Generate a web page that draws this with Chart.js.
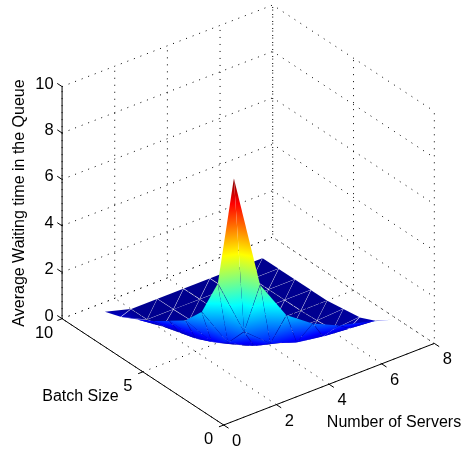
<!DOCTYPE html>
<html>
<head>
<meta charset="utf-8">
<style>
  html, body { margin: 0; padding: 0; background: #fff; }
  canvas { display: block; }
</style>
<script src="https://cdn.jsdelivr.net/npm/chart.js@4"></script>
</head>
<body>
<canvas id="surfaceChart" width="463" height="450"></canvas>
<script>
const serverCounts = [1, 2, 3, 4, 5, 6, 7];
const batchSizes = [1, 2, 3, 4, 5, 6, 7, 8, 9];
// one row per batch size, one column per server count
const batch1 = [9.74, 4.70, 2.96, 2.16, 1.64, 1.34, 1.00];
const batch2 = [4.75, 2.22, 1.28, 0.88, 0.70, 0.60, 0.50];
const batch3 = [3.07, 1.29, 0.71, 0.40, 0.10, 0.10, 0.20];
const batch4 = [2.25, 0.86, 0.30, 0.10, 0.05, 0.03, 0.10];
const batch5 = [1.77, 0.55, 0.15, 0.05, 0.02, 0.00, 0.00];
const batch6 = [1.30, 0.35, 0.05, 0.00, 0.00, 0.00, 0.00];
const batch7 = [0.90, 0.15, 0.02, 0.00, 0.00, 0.00, 0.00];
const batch8 = [0.55, 0.00, 0.00, 0.00, 0.00, 0.00, 0.00];
const batch9 = [0.32, 0.00, 0.00, 0.00, 0.00, 0.00, 0.00];
const waitingTimes = [batch1, batch2, batch3, batch4, batch5, batch6, batch7, batch8, batch9];

const serverTicks = [0, 2, 4, 6, 8];
const batchTicks = [0, 5, 10];
const waitTicks = [0, 2, 4, 6, 8, 10];
const xMax = 8, yMax = 10, zMax = 10;

// default matlab view: az -37.5, el 30
const az = -37.5 * Math.PI / 180, el = 30 * Math.PI / 180;
function project(x, y, z) {
  const nx = x / xMax, ny = y / yMax, nz = z / zMax;
  return {
    x: nx * Math.cos(az) + ny * Math.sin(az),
    y: (ny * Math.cos(az) - nx * Math.sin(az)) * Math.sin(el) + nz * Math.cos(el),
    depth: (ny * Math.cos(az) - nx * Math.sin(az)) * Math.cos(el) - nz * Math.sin(el)
  };
}

function lineSet(points, dotted) {
  return {
    data: points.map(p => project(p[0], p[1], p[2])),
    showLine: true,
    pointRadius: 0,
    borderColor: '#000',
    borderWidth: 1,
    borderDash: dotted ? [1, 6] : [],
    tension: 0,
    order: 1,
    clip: false
  };
}

const datasets = [];
// grid on the floor and on the two back walls
serverTicks.forEach(x => datasets.push(lineSet([[x, 0, 0], [x, yMax, 0], [x, yMax, zMax]], true)));
batchTicks.forEach(y => datasets.push(lineSet([[0, y, 0], [xMax, y, 0], [xMax, y, zMax]], true)));
waitTicks.forEach(z => datasets.push(lineSet([[0, yMax, z], [xMax, yMax, z], [xMax, 0, z]], true)));
// axes
datasets.push(lineSet([[0, 0, 0], [xMax, 0, 0]], false));
datasets.push(lineSet([[0, 0, 0], [0, yMax, 0]], false));
datasets.push(lineSet([[0, yMax, 0], [0, yMax, zMax]], false));
// tick marks
serverTicks.forEach(x => datasets.push(lineSet([[x, 0, 0], [x, -0.3, 0]], false)));
batchTicks.forEach(y => datasets.push(lineSet([[0, y, 0], [-0.18, y, 0]], false)));
waitTicks.forEach(z => datasets.push(lineSet([[0, yMax, z], [0, yMax + 0.3, z]], false)));

// the surface itself, painted by the plugin below
const surfacePoints = [];
batchSizes.forEach((y, j) => serverCounts.forEach((x, i) => {
  surfacePoints.push(Object.assign(project(x, y, waitingTimes[j][i]), { z: waitingTimes[j][i] }));
}));
datasets.push({ label: 'surface', data: surfacePoints, showLine: false, pointRadius: 0 });

const zTop = Math.max(...waitingTimes.flat());
const jetStops = [
  [0, '#00008f'], [0.111, '#0000ff'], [0.365, '#00ffff'],
  [0.619, '#ffff00'], [0.873, '#ff0000'], [1, '#800000']
];
const seam = 0.35; // how far each facet is pulled in, so the seams show like the original

function fillTriangle(ctx, a, b, c) {
  const d1x = b.px - a.px, d1y = b.py - a.py, d2x = c.px - a.px, d2y = c.py - a.py;
  const det = d1x * d2y - d2x * d1y;
  if (Math.abs(det) < 1e-6) return;
  const dz1 = b.z - a.z, dz2 = c.z - a.z;
  const gx = (dz1 * d2y - dz2 * d1y) / det, gy = (dz2 * d1x - dz1 * d2x) / det;
  const g2 = gx * gx + gy * gy;
  const cx = (a.px + b.px + c.px) / 3, cy = (a.py + b.py + c.py) / 3;
  const pull = p => {
    const dx = cx - p.px, dy = cy - p.py, len = Math.hypot(dx, dy) || 1;
    const k = Math.min(seam, len * 0.3) / len;
    return [p.px + dx * k, p.py + dy * k];
  };
  ctx.beginPath();
  ctx.moveTo(...pull(a));
  ctx.lineTo(...pull(b));
  ctx.lineTo(...pull(c));
  ctx.closePath();
  if (g2 < 1e-9) {
    ctx.fillStyle = jetStops[0][1];
  } else {
    const s0 = -a.z / g2, s1 = (zTop - a.z) / g2;
    const grad = ctx.createLinearGradient(a.px + gx * s0, a.py + gy * s0, a.px + gx * s1, a.py + gy * s1);
    jetStops.forEach(s => grad.addColorStop(s[0], s[1]));
    ctx.fillStyle = grad;
  }
  ctx.fill();
}

const surfacePlugin = {
  id: 'surface',
  afterDatasetsDraw(chart) {
    const ctx = chart.ctx, sx = chart.scales.x, sy = chart.scales.y;
    const nx = serverCounts.length;
    const pts = surfacePoints.map(p => ({
      px: sx.getPixelForValue(p.x), py: sy.getPixelForValue(p.y), z: p.z, depth: p.depth
    }));
    const tris = [];
    for (let j = 0; j < batchSizes.length - 1; j++) {
      for (let i = 0; i < nx - 1; i++) {
        const p00 = pts[j * nx + i], p10 = pts[j * nx + i + 1];
        const p01 = pts[(j + 1) * nx + i], p11 = pts[(j + 1) * nx + i + 1];
        tris.push([p00, p10, p11], [p00, p11, p01]);
      }
    }
    tris.sort((s, t) => (t[0].depth + t[1].depth + t[2].depth) - (s[0].depth + s[1].depth + s[2].depth));
    ctx.save();
    tris.forEach(t => fillTriangle(ctx, t[0], t[1], t[2]));
    ctx.restore();
  }
};

const labelPlugin = {
  id: 'labels',
  afterDraw(chart) {
    const ctx = chart.ctx, sx = chart.scales.x, sy = chart.scales.y;
    const at = (x, y, z) => {
      const p = project(x, y, z);
      return [sx.getPixelForValue(p.x), sy.getPixelForValue(p.y)];
    };
    ctx.save();
    ctx.fillStyle = '#000';
    ctx.textBaseline = 'middle';
    ctx.font = '16.5px "Liberation Sans"';
    ctx.textAlign = 'center';
    serverTicks.forEach(t => {
      const [px, py] = at(t, 0, 0);
      ctx.fillText(String(t), px + 13, py + 16.5);
    });
    batchTicks.forEach(t => {
      const [px, py] = at(0, t, 0);
      ctx.fillText(String(t), px - (t === 10 ? 18 : 15), py + 14.5);
    });
    ctx.textAlign = 'right';
    waitTicks.forEach(t => {
      const [px, py] = at(0, yMax, t);
      ctx.fillText(String(t), px - 8.5, py - 2.5);
    });
    ctx.font = '16px "Liberation Sans"';
    ctx.textAlign = 'center';
    ctx.fillText('Batch Size', 80.5, 396.5);
    ctx.fillText('Number of Servers', 394, 422.5);
    ctx.translate(19.5, 203);
    ctx.rotate(-Math.PI / 2);
    ctx.fillText('Average Waiting time in the Queue', 0, 0);
    ctx.restore();
  }
};

// front corner of the box sits at pixel (223.7, 425)
const pxPerX = 265.5, pxPerY = 268;
new Chart(document.getElementById('surfaceChart'), {
  type: 'scatter',
  data: { datasets: datasets },
  plugins: [surfacePlugin, labelPlugin],
  options: {
    responsive: false,
    animation: false,
    devicePixelRatio: 1,
    layout: { padding: 0 },
    plugins: { legend: { display: false }, tooltip: { enabled: false } },
    scales: {
      x: { type: 'linear', display: false, min: -223.7 / pxPerX, max: (463 - 223.7) / pxPerX },
      y: { type: 'linear', display: false, min: -(450 - 425) / pxPerY, max: 425 / pxPerY }
    }
  }
});
</script>
</body>
</html>
